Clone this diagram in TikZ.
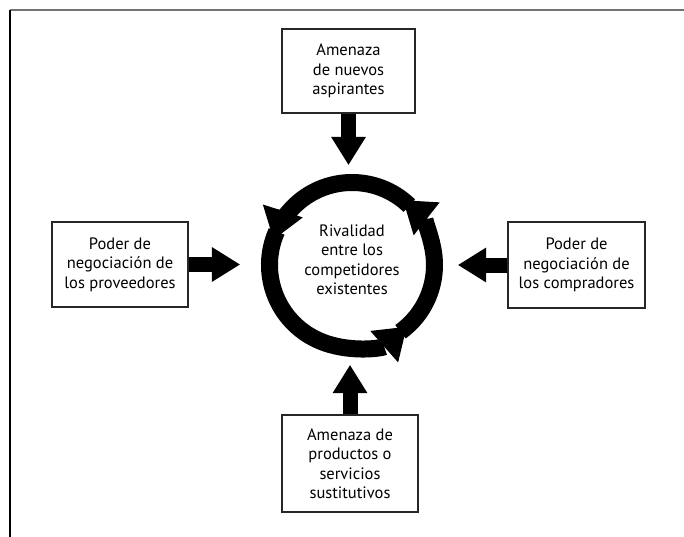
\documentclass[tikz,border=0pt]{standalone}
\usepackage{fontspec}
\setmainfont{PT Sans}
\usetikzlibrary{arrows.meta}

\begin{document}
\begin{tikzpicture}[x=1pt,y=1pt,
  fuerza/.style={draw=black!85,line width=1.1pt,align=center,inner sep=0pt,
    font=\fontsize{16.5}{19.5}\selectfont},
  empuje/.style={line width=15pt,-{Triangle[length=28pt,width=35pt,line width=0pt]}},
  giro/.style={line width=17pt,-{Triangle[length=30pt,width=42pt,line width=0pt]}}]
\useasboundingbox (0,0) rectangle (684,-537);
\draw[black!55,line width=1.5pt] (10,-10) -- (684,-10);
\draw[line width=1.2pt] (10,-10) -- (10,-537);
\node[fuerza,minimum width=133pt,minimum height=84pt] (nuevos) at (348.5,-71)
  {Amenaza\\de nuevos\\aspirantes};
\node[fuerza,minimum width=136pt,minimum height=85pt] (prov) at (120,-264.5)
  {Poder de\\negociación de\\los proveedores};
\node[fuerza,minimum width=137pt,minimum height=86pt] (comp) at (576.5,-265)
  {Poder de\\negociación de\\los compradores};
\node[fuerza,minimum width=136pt,minimum height=97pt] (sust) at (350,-463.5)
  {Amenaza de\\productos o\\servicios\\sustitutivos};
\node[circle,minimum size=200pt,inner sep=0pt] (ring) at (352,-265) {};
\node[align=center,font=\fontsize{16.5}{19.5}\selectfont] (rival)
  at ([yshift=5pt]ring.center) {Rivalidad\\entre los\\competidores\\existentes};
\draw[giro] (ring.center) ++(-54:82.5) arc[start angle=-54,end angle=51.7,radius=82.5];
\draw[giro] (ring.center) ++(46:82.5) arc[start angle=46,end angle=162,radius=82.5];
\draw[giro] (ring.center) ++(156:82.5) arc[start angle=156,end angle=311.5,radius=82.5];
\draw[empuje] (nuevos.south) -- (nuevos.south |- ring.north);
\draw[empuje] (sust.north) -- (sust.north |- ring.south);
\draw[empuje,shorten >=12pt] (prov.east) -- (prov.east -| ring.west);
\draw[empuje,shorten >=6pt] (comp.west) -- (comp.west -| ring.east);
\end{tikzpicture}
\end{document}
